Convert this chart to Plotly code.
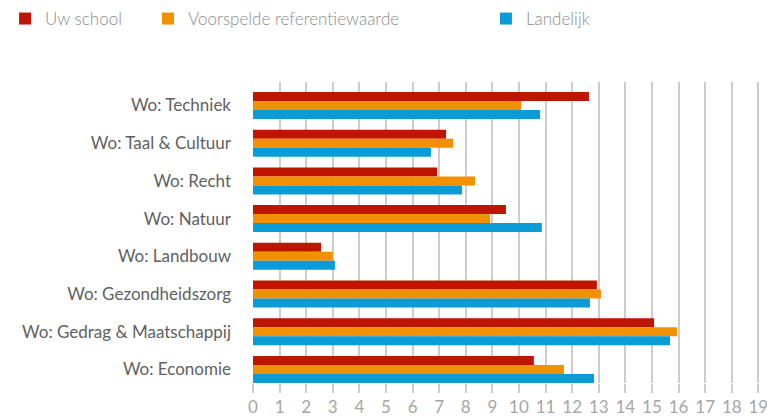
import plotly.graph_objects as go

categories = ["Wo: Techniek", "Wo: Taal & Cultuur", "Wo: Recht", "Wo: Natuur",
              "Wo: Landbouw", "Wo: Gezondheidszorg", "Wo: Gedrag & Maatschappij", "Wo: Economie"]
uw_school = [12.63, 7.26, 6.92, 9.51, 2.56, 12.93, 15.08, 10.56]
voorspeld = [10.08, 7.52, 8.35, 8.91, 3.00, 13.08, 15.94, 11.69]
landelijk = [10.79, 6.69, 7.86, 10.86, 3.08, 12.67, 15.68, 12.82]
x_ticks = list(range(0, 20))

series = [
    ("Uw school", uw_school, "#BE1500", "legend"),
    ("Voorspelde referentiewaarde", voorspeld, "#F29100", "legend2"),
    ("Landelijk", landelijk, "#099CD6", "legend3"),
]

FONT = "Lato"
fig = go.Figure()
for name, vals, color, lg in series:
    fig.add_trace(go.Bar(
        y=categories, x=vals, name=name, orientation="h",
        marker=dict(color=color, line=dict(width=0)),
        legend=lg, hoverinfo="x+name",
    ))

X_MAX = 19.1
L, T, B = 253, 82, 36
W, H = 767, 419
pw = 505.5 * X_MAX / 19
R = W - L - pw
ph = H - T - B

def px_x(px):
    return (px - L) / pw

def px_y(py):
    return 1 + (T - py) / ph

legend_common = dict(
    orientation="h", yanchor="middle", xanchor="left", y=px_y(19),
    font=dict(family=FONT, size=17, color="#8C8C8C", weight=300),
    bgcolor="rgba(0,0,0,0)", borderwidth=0,
)

fig.update_layout(
    width=W, height=H,
    margin=dict(l=L, r=R, t=T, b=B, pad=0, autoexpand=False),
    paper_bgcolor="white", plot_bgcolor="white",
    barmode="group", bargap=0.284, bargroupgap=0,
    showlegend=True,
    legend=dict(x=px_x(5), **legend_common),
    legend2=dict(x=px_x(148), **legend_common),
    legend3=dict(x=px_x(486), **legend_common),
    font=dict(family=FONT),
    xaxis=dict(
        range=[0, X_MAX], tickmode="array", tickvals=x_ticks,
        ticktext=[str(v) for v in x_ticks],
        showgrid=True, gridcolor="#CDCDCD", gridwidth=2,
        ticks="outside", ticklen=9, tickwidth=2, tickcolor="#CDCDCD",
        ticklabelstandoff=0, ticklabeloverflow="allow",
        showline=False, zeroline=False, automargin=False,
        tickfont=dict(family=FONT, size=17, color="#A6A6A6"),
        fixedrange=True,
    ),
    yaxis=dict(
        type="category", categoryorder="array", categoryarray=categories,
        range=[7.36, -0.623], showgrid=False, zeroline=False, showline=False,
        ticks="", ticklabelstandoff=21, automargin=False,
        tickfont=dict(family=FONT, size=17, color="#5F5F5F"),
        fixedrange=True,
    ),
)

fig.write_html(
    "out.html",
    config={"displayModeBar": False},
    post_script="document.body.style.margin='0';document.body.style.overflow='hidden';",
)
